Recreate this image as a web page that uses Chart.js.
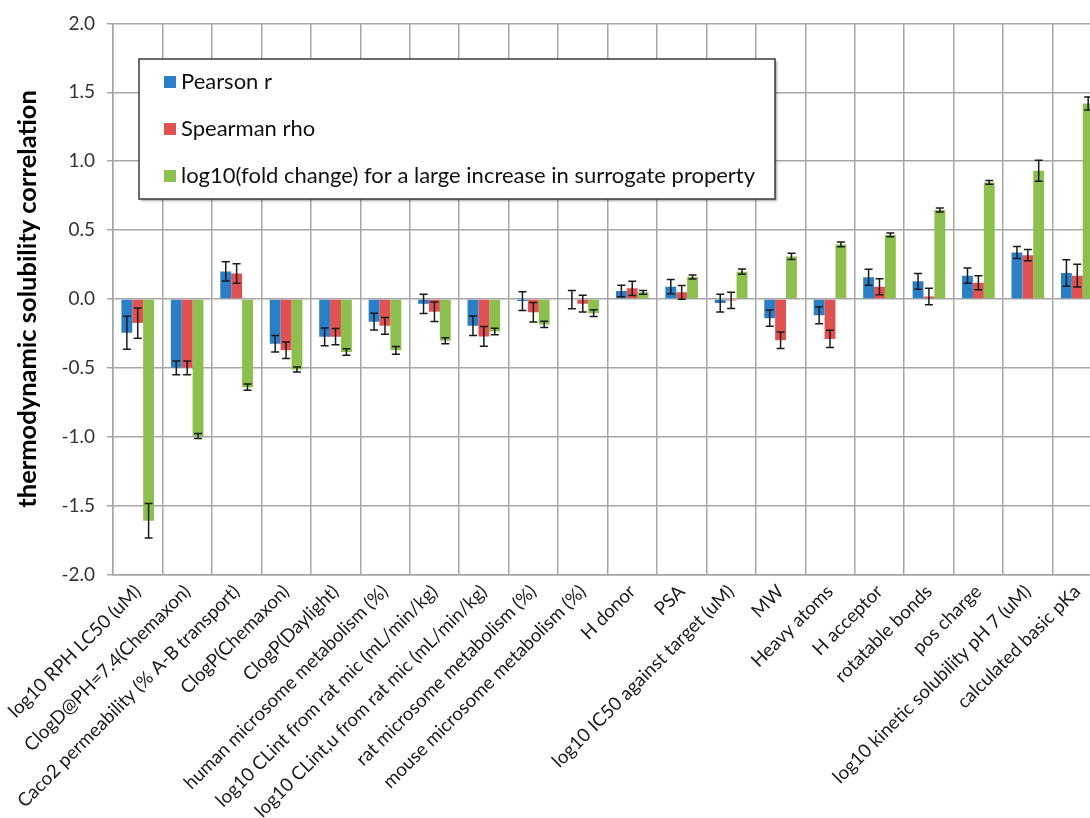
<!DOCTYPE html>
<html>
<head>
<meta charset="utf-8">
<script src="https://cdn.jsdelivr.net/npm/chart.js@4.4.1/dist/chart.umd.min.js"></script>
<style>
  html, body { margin: 0; padding: 0; background: #fff; overflow: hidden; }
  #wrap { position: relative; width: 1104px; height: 818px; }
</style>
</head>
<body>
<div id="wrap"><canvas id="chart"></canvas></div>
<script>
// Surrogate properties compared against thermodynamic solubility
const categories = [
  "log10 RPH LC50 (uM)",
  "ClogD@PH=7.4(Chemaxon)",
  "Caco2 permeability (% A-B transport)",
  "ClogP(Chemaxon)",
  "ClogP(Daylight)",
  "human microsome metabolism (%)",
  "log10 CLint from rat mic (mL/min/kg)",
  "log10 CLint,u from rat mic (mL/min/kg)",
  "rat microsome metabolism (%)",
  "mouse microsome metabolism (%)",
  "H donor",
  "PSA",
  "log10 IC50 against target (uM)",
  "MW",
  "Heavy atoms",
  "H acceptor",
  "rotatable bonds",
  "pos charge",
  "log10 kinetic solubility pH 7 (uM)",
  "calculated basic pKa"
];

const pearson     = [-0.245, -0.50, 0.20, -0.325, -0.275, -0.165, -0.035, -0.195, -0.015, -0.005, 0.058, 0.089, -0.03, -0.14, -0.118, 0.157, 0.128, 0.169, 0.337, 0.188];
const pearsonErr  = [0.12, 0.05, 0.07, 0.06, 0.064, 0.061, 0.07, 0.071, 0.068, 0.066, 0.042, 0.052, 0.064, 0.059, 0.062, 0.058, 0.057, 0.055, 0.043, 0.096];
const spearman    = [-0.175, -0.50, 0.185, -0.373, -0.274, -0.195, -0.093, -0.272, -0.096, -0.034, 0.077, 0.048, -0.011, -0.30, -0.29, 0.089, 0.017, 0.118, 0.318, 0.169];
const spearmanErr = [0.11, 0.05, 0.071, 0.06, 0.059, 0.061, 0.07, 0.072, 0.071, 0.06, 0.052, 0.05, 0.059, 0.06, 0.062, 0.058, 0.06, 0.051, 0.041, 0.083];
const foldChange    = [-1.61, -0.995, -0.64, -0.512, -0.385, -0.373, -0.303, -0.236, -0.185, -0.103, 0.048, 0.159, 0.198, 0.309, 0.396, 0.465, 0.646, 0.846, 0.93, 1.418];
const foldChangeErr = [0.125, 0.018, 0.022, 0.018, 0.023, 0.028, 0.022, 0.023, 0.023, 0.024, 0.013, 0.015, 0.019, 0.022, 0.018, 0.013, 0.014, 0.013, 0.076, 0.047];

const seriesNames = [
  "Pearson r",
  "Spearman rho",
  "log10(fold change) for a large increase in surrogate property"
];
const yTicks = [-2.0, -1.5, -1.0, -0.5, 0.0, 0.5, 1.0, 1.5, 2.0];
const yTitle = "thermodynamic solubility correlation";

const FONT = "Lato, 'Open Sans', sans-serif";
const GRID = "#a6a6a6";

// whiskers for each bar: value ± error, placed through the y scale
const errorBars = {
  id: "errorBars",
  afterDatasetsDraw(chart) {
    const ctx = chart.ctx;
    const y = chart.scales.y;
    ctx.save();
    ctx.strokeStyle = "#1a1a1a";
    ctx.lineWidth = 1.5;
    chart.data.datasets.forEach((ds, i) => {
      const meta = chart.getDatasetMeta(i);
      meta.data.forEach((bar, j) => {
        const v = ds.data[j], e = ds.errors[j];
        const yTop = y.getPixelForValue(v + e);
        const yBot = y.getPixelForValue(v - e);
        const cap = 4;
        ctx.beginPath();
        ctx.moveTo(bar.x, yTop); ctx.lineTo(bar.x, yBot);
        ctx.moveTo(bar.x - cap, yTop); ctx.lineTo(bar.x + cap, yTop);
        ctx.moveTo(bar.x - cap, yBot); ctx.lineTo(bar.x + cap, yBot);
        ctx.stroke();
      });
    });
    ctx.restore();
  }
};

// boxed legend floating inside the plot area
const boxLegend = {
  id: "boxLegend",
  afterDraw(chart) {
    const ctx = chart.ctx;
    const x0 = 139, y0 = 59, w = 636, h = 140;
    ctx.save();
    ctx.shadowColor = "rgba(0,0,0,0.35)";
    ctx.shadowBlur = 2;
    ctx.shadowOffsetX = 1.5;
    ctx.shadowOffsetY = 1.5;
    ctx.fillStyle = "#ffffff";
    ctx.fillRect(x0, y0, w, h);
    ctx.shadowColor = "transparent";
    ctx.strokeStyle = "#3a3a3a";
    ctx.lineWidth = 1.5;
    ctx.strokeRect(x0, y0, w, h);
    ctx.font = "22px " + FONT;
    ctx.textBaseline = "middle";
    chart.data.datasets.forEach((ds, i) => {
      const cy = y0 + 23 + i * 47;
      ctx.fillStyle = ds.backgroundColor;
      ctx.fillRect(x0 + 25, cy - 6, 12, 12);
      ctx.fillStyle = "#111";
      ctx.fillText(ds.label, x0 + 42, cy);
    });
    ctx.restore();
  }
};

new Chart(document.getElementById("chart"), {
  type: "bar",
  data: {
    labels: categories,
    datasets: [
      { label: seriesNames[0], data: pearson,    errors: pearsonErr,    backgroundColor: "#2b7fc6" },
      { label: seriesNames[1], data: spearman,   errors: spearmanErr,   backgroundColor: "#e05252" },
      { label: seriesNames[2], data: foldChange, errors: foldChangeErr, backgroundColor: "#8dbf4f" }
    ]
  },
  options: {
    responsive: true,
    maintainAspectRatio: false,
    animation: false,
    layout: { padding: { top: 22, right: 2, left: 0, bottom: 0 } },
    datasets: { bar: { categoryPercentage: 0.66, barPercentage: 1.0, borderWidth: 0 } },
    plugins: {
      legend: { display: false },
      tooltip: { enabled: false }
    },
    scales: {
      x: {
        grid: { color: GRID, lineWidth: 1.5, drawTicks: false, offset: true },
        border: { color: GRID, width: 1.5 },
        ticks: {
          autoSkip: false, minRotation: 45, maxRotation: 45, padding: 6,
          color: "#1a1a1a", font: { family: FONT, size: 18.7 }
        },
        afterFit(scale) {
          scale.height = 243.5;
          scale.paddingLeft = 0;
          scale.paddingRight = 0;
        }
      },
      y: {
        min: -2, max: 2,
        afterBuildTicks(scale) { scale.ticks = yTicks.map(v => ({ value: v })); },
        grid: { color: GRID, lineWidth: 1.5, tickLength: 6 },
        border: { color: GRID, width: 1.5 },
        ticks: {
          padding: 12, color: "#333",
          font: { family: FONT, size: 19 },
          callback: v => Number(v).toFixed(1)
        },
        title: {
          display: true, text: yTitle, color: "#000",
          font: { family: FONT, size: 25.5, weight: "bold" },
          padding: { top: 12, bottom: 0 }
        },
        afterFit(scale) { scale.width = 113; }
      }
    }
  },
  plugins: [errorBars, boxLegend]
});
</script>
</body>
</html>
